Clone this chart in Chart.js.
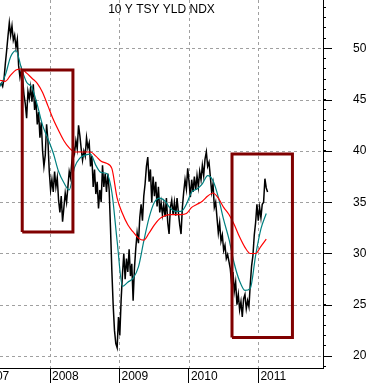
<!DOCTYPE html>
<html>
<head>
<meta charset="utf-8">
<script src="https://cdn.jsdelivr.net/npm/chart.js@4.4.0/dist/chart.umd.min.js"></script>
<style>
  html, body { margin: 0; padding: 0; background: #fff; }
  canvas { display: block; }
</style>
</head>
<body>
<canvas id="tsyChart" width="371" height="383"></canvas>
<script>
// 標題
const chartTitle = '10 Y TSY YLD NDX';

// 週線收盤 (10 Y TSY yield index), 從 2007.28 起每週一筆
const yieldWeekly = [
  46.4, 46.6, 46.3, 47.0, 48.5, 49.8, 51.2, 52.5, 51.3, 52.2,
  50.8, 51.3, 50.1, 50.9, 48.3, 47.2, 47.9, 47.0, 45.5, 44.6,
  43.2, 45.8, 45.1, 46.2, 44.8, 46.5, 44.0, 45.0, 42.6, 43.8,
  41.3, 42.8, 40.0, 38.5, 39.6, 42.6, 41.0, 38.0, 36.2, 37.2,
  36.0, 38.0, 36.5, 37.4, 35.2, 34.0, 35.6, 33.1, 34.5, 35.9,
  35.0, 36.5, 38.0, 37.4, 39.0, 40.5, 39.8, 41.0, 40.2, 42.5,
  41.5, 40.2, 39.1, 40.0, 39.5, 41.3, 40.3, 40.8, 38.5, 39.5,
  36.5, 38.2, 35.8, 37.0, 34.4, 36.2, 35.0, 38.6, 36.5, 37.8,
  36.0, 37.8, 36.2, 32.5, 28.4, 25.0, 22.5, 21.2, 20.8, 23.8,
  22.0, 25.5, 28.0, 30.0, 27.5, 29.5, 28.2, 30.4, 27.8, 29.0,
  25.4, 28.6, 30.5, 32.0, 31.0, 33.5, 34.8, 33.2, 35.6, 36.8,
  38.5, 39.4, 37.0, 38.2, 35.0, 37.5, 35.6, 37.0, 34.6, 36.5,
  34.0, 35.0, 33.8, 34.8, 33.6, 35.4, 33.0, 31.9, 34.5, 35.2,
  33.8, 35.0, 33.7, 35.4, 34.0, 32.8, 31.9, 34.5, 36.0, 37.2,
  36.3, 38.3, 37.0, 35.5, 37.2, 36.0, 37.5, 36.2, 37.6, 36.5,
  38.0, 37.2, 38.6, 37.6, 39.2, 39.9, 38.5, 38.9, 37.5, 36.0,
  36.8, 34.5, 35.0, 33.5, 32.0, 33.0, 31.2, 31.8, 30.3, 30.8,
  29.5, 29.9, 29.2, 28.5, 27.0, 28.2, 26.3, 27.2, 25.0, 26.0,
  24.5, 25.3, 23.8, 25.6, 26.0, 24.6, 25.4, 24.8, 27.0, 28.8,
  29.8, 31.8, 33.0, 34.8, 33.2, 34.5, 33.5, 34.8, 35.0, 37.3,
  36.4, 36.0
];

// 短均線 (teal), 每 4 週一筆
const shortAvg = [
  46.3, 47.4, 49.2, 49.8, 48.1, 46.7, 46.2, 44.5, 42.5, 41.2,
  39.8, 38.0, 36.9, 36.2, 38.4, 39.3, 39.6, 39.7, 38.6, 37.9,
  37.8, 36.0, 31.2, 26.8, 27.2, 27.6, 28.7, 31.2, 33.5, 35.0,
  35.4, 35.1, 34.4, 34.1, 34.1, 34.8, 36.0, 36.3, 36.8, 37.6,
  37.1, 35.5, 33.3, 31.4, 29.0, 27.3, 26.4, 26.6, 29.8, 32.4,
  33.9
];

// 長均線 (red), 每 4 週一筆
const longAvg = [
  46.9, 46.8, 47.4, 47.9, 48.0, 47.6, 47.1, 46.6, 45.7, 44.4,
  43.1, 42.0, 41.0, 40.3, 39.9, 39.9, 39.9, 39.9, 39.5, 39.0,
  38.8, 38.3, 35.4, 33.9, 32.8, 32.1, 31.5, 31.3, 32.0, 32.8,
  33.4, 33.7, 33.8, 33.8, 33.8, 33.9, 34.5, 34.8, 35.1, 35.6,
  35.9, 35.4, 34.5, 33.8, 32.8, 31.6, 30.6, 30.0, 30.0, 30.7,
  31.4
];

const firstWeek = 2007.28;
const weekStep = 7 / 365.25;

// 年份刻度, Y 軸主刻度
const yearTicks = [2007, 2008, 2009, 2010, 2011];
const yMajorTicks = [20, 25, 30, 35, 40, 45, 50];

// 兩個框 (年份, 數值)
const boxAX = [2007.60, 2008.33];
const boxAY = [32.1, 47.9];
const boxBX = [2010.62, 2011.49];
const boxBY = [21.8, 39.7];

function toPoints(values, step) {
  return values.map((v, i) => ({ x: firstWeek + i * step, y: v }));
}
function boxPoints(xs, ys) {
  return [
    { x: xs[0], y: ys[0] }, { x: xs[0], y: ys[1] }, { x: xs[1], y: ys[1] },
    { x: xs[1], y: ys[0] }, { x: xs[0], y: ys[0] }
  ];
}

let yMinorTicks = [];
for (let v = 19; v <= 54; v++) yMinorTicks.push(v);

const labelFont = { family: 'Arial, "Liberation Sans", sans-serif', size: 12 };
const gridColor = '#a0a0a0';

// 虛線格線
const gridPlugin = {
  id: 'dashGrid',
  beforeDatasetsDraw(chart) {
    const ctx = chart.ctx;
    const area = chart.chartArea;
    const xScale = chart.scales.x;
    const yScale = chart.scales.y;
    ctx.save();
    ctx.strokeStyle = gridColor;
    ctx.lineWidth = 1;
    ctx.setLineDash([3, 3]);
    yMajorTicks.forEach(v => {
      const py = Math.round(yScale.getPixelForValue(v)) + 0.5;
      ctx.beginPath();
      ctx.moveTo(area.left, py);
      ctx.lineTo(area.right, py);
      ctx.stroke();
    });
    yearTicks.forEach(v => {
      const px = Math.round(xScale.getPixelForValue(v)) + 0.5;
      if (px < area.left || px > area.right) return;
      ctx.beginPath();
      ctx.moveTo(px, area.top);
      ctx.lineTo(px, area.bottom);
      ctx.stroke();
    });
    ctx.restore();
  }
};

// 標題與主刻度延長
const extrasPlugin = {
  id: 'extras',
  afterDraw(chart) {
    const ctx = chart.ctx;
    const area = chart.chartArea;
    const yScale = chart.scales.y;
    ctx.save();
    ctx.strokeStyle = '#000';
    ctx.lineWidth = 1;
    yMajorTicks.forEach(v => {
      const py = Math.round(yScale.getPixelForValue(v)) + 0.5;
      ctx.beginPath();
      ctx.moveTo(yScale.left, py);
      ctx.lineTo(yScale.left + 9, py);
      ctx.stroke();
    });
    ctx.fillStyle = '#000';
    ctx.font = '12px Arial, "Liberation Sans", sans-serif';
    ctx.textAlign = 'center';
    ctx.textBaseline = 'middle';
    ctx.fillText(chartTitle, (area.left + area.right) / 2, 10);
    ctx.restore();
  }
};

function noPadding(s) {
  s.paddingLeft = 0;
  s.paddingRight = 0;
  s.paddingTop = 0;
  s.paddingBottom = 0;
}

const lineBase = { pointRadius: 0, fill: false, borderJoinStyle: 'miter' };

new Chart(document.querySelector('#tsyChart'), {
  type: 'line',
  data: {
    datasets: [
      Object.assign({ data: boxPoints(boxAX, boxAY), borderColor: '#800000', borderWidth: 3, tension: 0, order: 0 }, lineBase),
      Object.assign({ data: boxPoints(boxBX, boxBY), borderColor: '#800000', borderWidth: 3, tension: 0, order: 0 }, lineBase),
      Object.assign({ data: toPoints(longAvg, weekStep * 4), borderColor: '#ff0000', borderWidth: 1.2, cubicInterpolationMode: 'monotone', order: 1 }, lineBase),
      Object.assign({ data: toPoints(shortAvg, weekStep * 4), borderColor: '#008080', borderWidth: 1.2, cubicInterpolationMode: 'monotone', order: 2 }, lineBase),
      Object.assign({ data: toPoints(yieldWeekly, weekStep), borderColor: '#000', borderWidth: 1.5, tension: 0, order: 3 }, lineBase)
    ]
  },
  options: {
    responsive: false,
    animation: false,
    events: [],
    layout: { padding: 0 },
    plugins: { legend: { display: false }, tooltip: { enabled: false }, title: { display: false } },
    scales: {
      x: {
        type: 'linear',
        min: 2007.28,
        max: 2011.93,
        afterBuildTicks: s => { s.ticks = yearTicks.map(v => ({ value: v })); },
        afterFit: s => { s.height = 15; noPadding(s); },
        grid: { drawOnChartArea: false, tickLength: 15, tickColor: '#000', tickWidth: 1 },
        border: { display: true, color: '#000', width: 1 },
        ticks: {
          autoSkip: false, maxRotation: 0, align: 'start', labelOffset: 2, padding: -14,
          color: '#000', font: labelFont, callback: v => String(v)
        }
      },
      y: {
        position: 'right',
        min: 18.83,
        max: 54.73,
        afterBuildTicks: s => { s.ticks = yMinorTicks.map(v => ({ value: v })); },
        afterFit: s => { s.width = 48; noPadding(s); },
        grid: { drawOnChartArea: false, tickLength: 3, tickColor: '#000', tickWidth: 1 },
        border: { display: true, color: '#000', width: 1 },
        ticks: {
          autoSkip: false, padding: 27, color: '#000', font: labelFont,
          callback: v => yMajorTicks.includes(v) ? String(v) : ''
        }
      }
    }
  },
  plugins: [gridPlugin, extrasPlugin]
});
</script>
</body>
</html>
